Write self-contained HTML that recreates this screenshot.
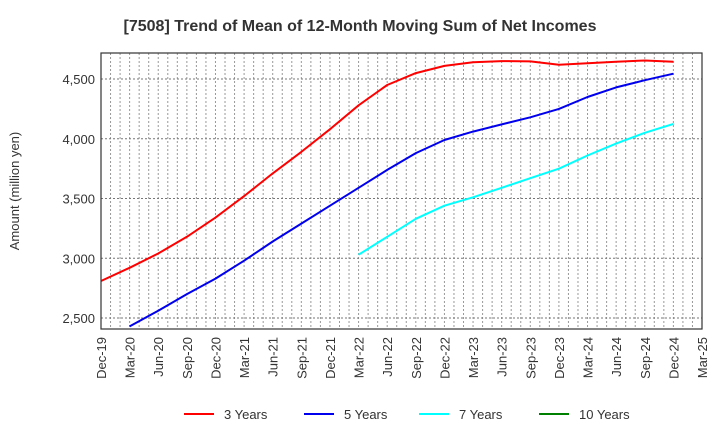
<!DOCTYPE html>
<html><head><meta charset="utf-8"><style>
body{margin:0;background:#fff;font-family:"Liberation Sans",Arial,sans-serif}
svg text{font-family:"Liberation Sans",Arial,sans-serif}
</style></head><body>
<svg id="c" width="720" height="440" xmlns="http://www.w3.org/2000/svg">
<text x="360" y="31" text-anchor="middle" font-size="16" font-weight="bold" fill="#333">[7508]  Trend of Mean of 12-Month Moving Sum of Net Incomes</text>
<text transform="translate(19,191) rotate(-90)" text-anchor="middle" font-size="13" fill="#333">Amount (million yen)</text>
<g id="grid"></g><g id="series"></g><g id="axes"></g><g id="legend"></g>
</svg>
<script>
const xLabels=["Dec-19","Mar-20","Jun-20","Sep-20","Dec-20","Mar-21","Jun-21","Sep-21","Dec-21","Mar-22","Jun-22","Sep-22","Dec-22","Mar-23","Jun-23","Sep-23","Dec-23","Mar-24","Jun-24","Sep-24","Dec-24","Mar-25"];
const yTicks=[2500,3000,3500,4000,4500];
const yTickLabels=["2,500","3,000","3,500","4,000","4,500"];
const seriesNames=["3 Years","5 Years","7 Years","10 Years"];
const seriesColors=["#ff0000","#0000ee","#00ffff","#008000"];
const red=[2810,2920,3040,3180,3340,3520,3710,3890,4080,4280,4450,4550,4610,4640,4650,4648,4620,4632,4645,4655,4645];
const blue=[null,2430,2560,2700,2830,2980,3140,3290,3440,3590,3740,3880,3990,4060,4120,4180,4250,4350,4430,4490,4545];
const cyan=[null,null,null,null,null,null,null,null,null,3030,3180,3330,3440,3510,3590,3670,3750,3860,3960,4050,4125];
const green=[];
const L=101,R=702,T=53,B=329,yMin=2408,yMax=4718;
const ns="http://www.w3.org/2000/svg";
const xs=i=>L+i*(R-L)/(xLabels.length-1);
const ys=v=>B-(v-yMin)/(yMax-yMin)*(B-T);
function mk(t,a,p){const e=document.createElementNS(ns,t);for(const k in a)e.setAttribute(k,a[k]);p.appendChild(e);return e;}
const g=document.getElementById('grid'),s=document.getElementById('series'),ax=document.getElementById('axes'),lg=document.getElementById('legend');
for(let m=1;m<(xLabels.length-1)*3;m++){const x=L+m*(R-L)/((xLabels.length-1)*3);
 const l=mk('line',{x1:x,x2:x,y1:T,y2:B,stroke:'#999','stroke-width':1,'stroke-dasharray':'2,2'},g);
 
 }
yTicks.forEach((v,i)=>{const l=mk('line',{x1:L,x2:R,y1:ys(v),y2:ys(v),stroke:'#777','stroke-width':1,'stroke-dasharray':'2,2'},g);
 
 
 const t=mk('text',{x:L-6,y:ys(v)+5,'text-anchor':'end','font-size':13,fill:'#333'},ax);t.textContent=yTickLabels[i];
 
 });
xLabels.forEach((lab,i)=>{const t=mk('text',{transform:`translate(${xs(i)+5},${B+8}) rotate(-90)`,'text-anchor':'end','font-size':13,fill:'#333'},ax);t.textContent=lab;
 
 });
const fr=mk('rect',{x:L,y:T,width:R-L,height:B-T,fill:'none',stroke:'#333','stroke-width':1.2},ax);


[red,blue,cyan,green].forEach((d,k)=>{const pts=[];d.forEach((v,i)=>{if(v!=null)pts.push(xs(i).toFixed(1)+','+ys(v).toFixed(1));});
 if(pts.length<2)return;
 const p=mk('polyline',{points:pts.join(' '),fill:'none',stroke:seriesColors[k],'stroke-width':2,'stroke-linejoin':'round'},s);
 
 });
const lx=[184,304,419,539];
seriesNames.forEach((n,k)=>{const l=mk('line',{x1:lx[k],x2:lx[k]+30,y1:414,y2:414,stroke:seriesColors[k],'stroke-width':2},lg);
 
 
 const t=mk('text',{x:lx[k]+40,y:419,'font-size':13,fill:'#333'},lg);t.textContent=n;
 
 });
</script>
</body></html>
